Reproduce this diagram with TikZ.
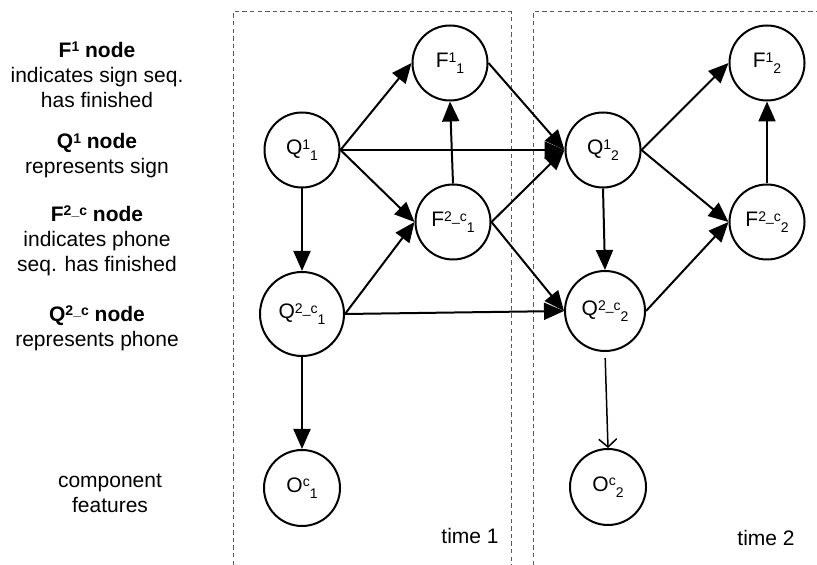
\documentclass[tikz,border=0pt]{standalone}
\usepackage{fontspec}
\setmainfont{Liberation Sans}
\usetikzlibrary{arrows.meta}
\newcommand{\smallsz}{\fontsize{7}{8}\selectfont}
\newcommand{\vlab}[3]{#1\raisebox{2.6pt}{\smallsz #2}\raisebox{-3.2pt}{\smallsz #3}}
\newcommand{\bsup}[1]{\raisebox{2.8pt}{\fontsize{7}{8}\selectfont\bfseries #1}}
\begin{document}
\begin{tikzpicture}[x=0.5pt,y=-0.5pt,
  every node/.style={font=\fontsize{10.5}{12.5}\selectfont},
  var/.style={circle,draw,line width=1pt,minimum size=37.5pt,inner sep=0pt},
  bigvar/.style={var,minimum size=42pt},
  medvar/.style={var,minimum size=40pt},
  arr/.style={line width=1pt,-{Triangle[length=10pt,width=8.5pt]}},
  thinarr/.style={line width=0.75pt,-{Straight Barb[length=4pt,width=9pt,line width=0.75pt]}},
  frame/.style={gray!70!black,line width=0.5pt,dash pattern=on 2.2pt off 1.6pt},
  desc/.style={align=center}
]
\useasboundingbox (0,0) rectangle (817,565);

% dashed time frames
\draw[frame] (233,565) -- (233,12) -- (511,12) -- (511,565);
\draw[frame] (533,565) -- (533,12) -- (817,12);

% left descriptions
\node[desc] (dF1) at (97,75) {\textbf{F\bsup{1} node}\\indicates sign seq.\\has finished};
\node[desc] (dQ1) at (97,156) {\textbf{Q\bsup{1} node}\\represents sign};
\node[desc] (dF2) at (97,241) {\textbf{F\bsup{2\_c} node}\\indicates phone\\seq. has finished};
\node[desc] (dQ2) at (97,328) {\textbf{Q\bsup{2\_c} node}\\represents phone};
\node[desc] (dO) at (110,493) {component\\features};

% time slice 1
\node[var] (F11) at (450,63) {\vlab{F}{1}{1}};
\node[var] (Q11) at (302,150) {\vlab{Q}{1}{1}};
\node[var] (F21) at (453,222) {\vlab{F}{2\_c}{1}};
\node[bigvar] (Q21) at (302,314) {\vlab{Q}{2\_c}{1}};
\node[var,minimum size=38pt] (O1) at (302,488) {\vlab{O}{c}{1}};

% time slice 2
\node[var] (F12) at (767,63) {\vlab{F}{1}{2}};
\node[var] (Q12) at (603,150) {\vlab{Q}{1}{2}};
\node[var] (F22) at (767,222) {\vlab{F}{2\_c}{2}};
\node[medvar] (Q22) at (605,311) {\vlab{Q}{2\_c}{2}};
\node[var,minimum size=38pt] (O2) at (608,487) {\vlab{O}{c}{2}};

% labels
\node (t1) at (470,536) {time 1};
\node (t2) at (766,538) {time 2};

% edges within slice 1
\draw[arr] (Q11.east) -- (F11.west);
\draw[arr] (Q11.east) -- (F21.west);
\draw[arr] (Q11.south) -- (Q21.north);
\draw[arr] (F21.north) -- (F11.south);
\draw[arr] (Q21.east) -- (F21.west);
\draw[arr] (Q21.south) -- (O1.north);

% edges between slices
\draw[arr] (Q11.east) -- (Q12.west);
\draw[arr] (F11.east) -- (Q12.west);
\draw[arr] (F21.east) -- (Q12.west);
\draw[arr] (F21.east) -- (Q22.west);
\draw[arr] (Q21.east) -- (Q22.west);

% edges within slice 2
\draw[arr] (Q12.east) -- (F12.west);
\draw[arr] (Q12.east) -- (F22.west);
\draw[arr] (Q12.south) -- (Q22.north);
\draw[arr] (F22.north) -- (F12.south);
\draw[arr] (Q22.east) -- (F22.west);
\draw[thinarr,shorten <=3pt] (Q22.south) -- (O2.north);
\end{tikzpicture}
\end{document}
